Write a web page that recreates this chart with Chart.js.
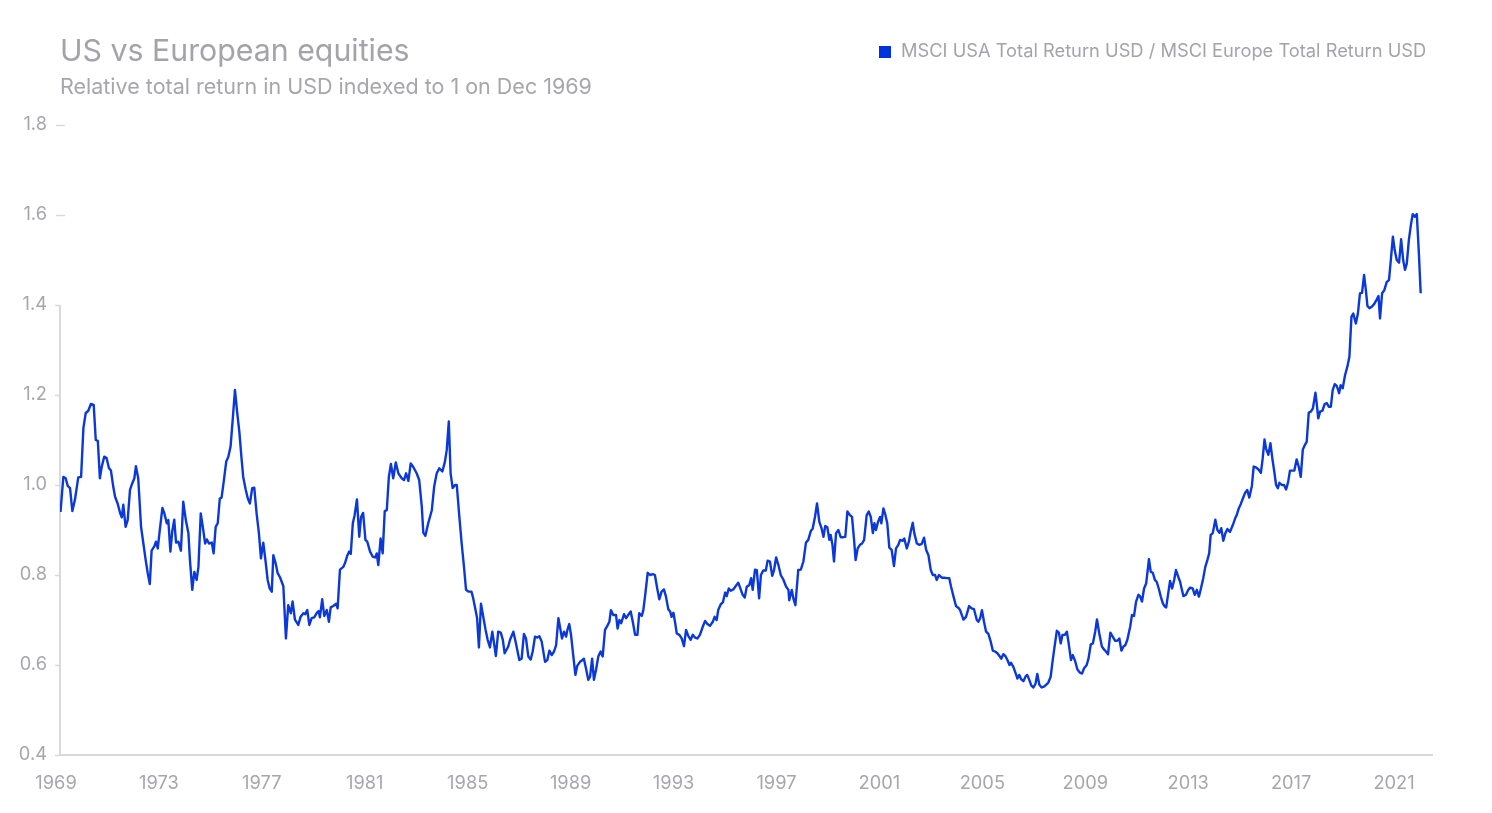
<!DOCTYPE html>
<html>
<head>
<meta charset="utf-8">
<script src="https://cdn.jsdelivr.net/npm/chart.js@4/dist/chart.umd.min.js"></script>
<style>
  html, body { margin: 0; padding: 0; background: #ffffff; }
  #wrap { position: relative; width: 1492px; height: 813px; overflow: hidden; font-family: Inter, "Noto Sans", sans-serif; }
  #c { position: absolute; left: 0; top: 0; }
  .txt { position: absolute; white-space: nowrap; line-height: 1; }
  #title { left: 60px; top: 35px; font-size: 30.3px; color: #a3a3ab; }
  #subtitle { left: 60px; top: 76px; font-size: 21.5px; color: #a6a6ad; }
  #legend { left: 879px; top: 41px; font-size: 18.3px; color: #a3a3ab; }
  #legend .box { display: inline-block; width: 12px; height: 12px; background: #0033dd; margin-right: 10px; vertical-align: -1px; }
</style>
</head>
<body>
<div id="wrap">
  <canvas id="c" width="1492" height="813"></canvas>
  <div class="txt" id="title"></div>
  <div class="txt" id="subtitle"></div>
  <div class="txt" id="legend"><span class="box"></span><span id="legendText"></span></div>
</div>
<script>
const chartTitle = "US vs European equities";
const chartSubtitle = "Relative total return in USD indexed to 1 on Dec 1969";
const seriesName = "MSCI USA Total Return USD / MSCI Europe Total Return USD";

const tickYears = [1969, 1973, 1977, 1981, 1985, 1989, 1993, 1997, 2001, 2005, 2009, 2013, 2017, 2021];
const yTicks = [0.4, 0.6, 0.8, 1.0, 1.2, 1.4, 1.6, 1.8];

const years = [
1969.02,1969.13,1969.22,1969.30,1969.39,1969.48,1969.58,1969.71,1969.82,1969.91,
1970.00,1970.10,1970.20,1970.31,1970.39,1970.47,1970.55,1970.62,1970.72,1970.81,1970.90,1970.98,
1971.07,1971.14,1971.24,1971.34,1971.40,1971.46,1971.55,1971.63,1971.72,1971.81,1971.89,1971.95,
1972.04,1972.15,1972.24,1972.33,1972.41,1972.49,1972.56,1972.67,1972.73,1972.80,1972.87,1972.98,
1973.05,1973.15,1973.21,1973.29,1973.36,1973.44,1973.51,1973.60,1973.70,1973.79,1973.89,1973.99,
1974.05,1974.14,1974.22,1974.31,1974.38,1974.47,1974.55,1974.64,1974.71,1974.79,1974.90,1974.97,
1975.05,1975.13,1975.21,1975.28,1975.37,1975.46,1975.54,1975.63,1975.71,1975.80,1975.89,1975.97,
1976.06,1976.12,1976.22,1976.30,1976.38,1976.47,1976.55,1976.64,1976.73,1976.81,1976.90,1976.99,
1977.07,1977.15,1977.23,1977.29,1977.38,1977.46,1977.55,1977.68,1977.78,1977.87,1977.97,
1978.04,1978.13,1978.26,1978.35,1978.46,1978.53,1978.61,1978.69,1978.78,1978.88,1978.98,
1979.05,1979.10,1979.19,1979.27,1979.37,1979.45,1979.52,1979.62,1979.73,1979.79,1979.88,
1980.01,1980.08,1980.17,1980.24,1980.30,1980.38,1980.45,1980.54,1980.63,1980.70,1980.78,1980.87,1980.94,
1981.05,1981.15,1981.25,1981.31,1981.37,1981.46,1981.54,1981.62,1981.70,1981.78,1981.86,1981.95,
1982.05,1982.15,1982.28,1982.37,1982.45,1982.54,1982.63,1982.73,1982.86,1982.96,
1983.06,1983.12,1983.20,1983.31,1983.45,1983.54,1983.64,1983.74,1983.86,1983.96,
1984.03,1984.11,1984.18,1984.26,1984.35,1984.42,1984.52,1984.61,1984.70,1984.78,1984.88,1984.99,
1985.06,1985.16,1985.21,1985.28,1985.36,1985.45,1985.54,1985.62,1985.71,1985.80,1985.88,1985.94,
1986.03,1986.13,1986.21,1986.28,1986.42,1986.49,1986.62,1986.72,1986.85,1986.94,
1987.03,1987.11,1987.20,1987.29,1987.37,1987.46,1987.55,1987.63,1987.72,1987.85,1987.94,
1988.02,1988.11,1988.20,1988.28,1988.37,1988.43,1988.51,1988.59,1988.67,1988.72,1988.79,1988.86,1988.95,
1989.03,1989.10,1989.21,1989.31,1989.36,1989.44,1989.53,1989.60,1989.68,1989.75,1989.83,1989.92,
1990.01,1990.09,1990.18,1990.27,1990.35,1990.41,1990.50,1990.61,1990.67,1990.74,1990.81,1990.92,
1991.00,1991.08,1991.18,1991.26,1991.35,1991.44,1991.51,1991.61,1991.67,1991.75,1991.84,1991.93,
1992.04,1992.12,1992.21,1992.29,1992.38,1992.47,1992.55,1992.64,1992.71,1992.77,1992.84,1992.90,1992.97,
1993.07,1993.16,1993.25,1993.33,1993.42,1993.51,1993.59,1993.68,1993.77,1993.87,1993.98,
1994.07,1994.16,1994.26,1994.37,1994.44,1994.52,1994.58,1994.68,1994.76,1994.85,1994.91,1994.99,
1995.07,1995.17,1995.27,1995.36,1995.43,1995.53,1995.61,1995.69,1995.79,1995.86,1995.92,
1996.01,1996.08,1996.17,1996.24,1996.33,1996.43,1996.50,1996.59,1996.68,1996.75,1996.83,1996.92,
1997.01,1997.11,1997.22,1997.31,1997.34,1997.44,1997.50,1997.58,1997.69,1997.79,1997.89,1997.99,
1998.08,1998.18,1998.25,1998.34,1998.42,1998.51,1998.60,1998.67,1998.74,1998.82,1998.90,1998.95,
1999.02,1999.08,1999.16,1999.25,1999.34,1999.44,1999.52,1999.60,1999.70,1999.78,1999.86,1999.92,
2000.00,2000.09,2000.17,2000.25,2000.35,2000.43,2000.51,2000.59,2000.65,2000.71,2000.79,2000.87,2000.92,
2001.00,2001.08,2001.15,2001.23,2001.32,2001.41,2001.49,2001.58,2001.65,2001.75,2001.81,2001.91,2001.99,
2002.06,2002.14,2002.20,2002.30,2002.40,2002.49,2002.58,2002.66,2002.75,2002.84,2002.92,
2003.01,2003.07,2003.16,2003.27,2003.36,2003.46,2003.56,2003.63,2003.72,2003.82,2003.93,2003.98,
2004.11,2004.21,2004.33,2004.43,2004.52,2004.63,2004.69,2004.76,2004.83,2004.91,2004.99,
2005.08,2005.17,2005.25,2005.34,2005.43,2005.51,2005.58,2005.66,2005.74,2005.82,2005.90,2005.96,
2006.05,2006.13,2006.21,2006.28,2006.36,2006.44,2006.52,2006.59,2006.67,2006.75,2006.83,2006.91,2006.98,
2007.06,2007.15,2007.24,2007.32,2007.41,2007.50,2007.58,2007.66,2007.74,2007.82,2007.89,2007.96,
2008.05,2008.13,2008.20,2008.29,2008.36,2008.45,2008.54,2008.64,2008.72,2008.80,2008.90,2008.97,
2009.06,2009.14,2009.23,2009.30,2009.39,2009.49,2009.58,2009.65,2009.73,2009.82,2009.91,
2010.00,2010.09,2010.17,2010.25,2010.33,2010.40,2010.48,2010.59,2010.66,2010.74,2010.82,2010.91,2010.97,
2011.05,2011.13,2011.21,2011.27,2011.32,2011.39,2011.47,2011.55,2011.62,2011.70,2011.78,2011.86,2011.93,2011.99,
2012.06,2012.14,2012.22,2012.30,2012.37,2012.46,2012.53,2012.60,2012.66,2012.76,2012.85,2012.92,
2013.02,2013.10,2013.18,2013.26,2013.34,2013.43,2013.51,2013.59,2013.66,2013.72,2013.80,2013.90,2013.98,
2014.06,2014.13,2014.21,2014.29,2014.37,2014.47,2014.58,2014.67,2014.73,2014.81,2014.89,2014.97,
2015.06,2015.14,2015.22,2015.32,2015.39,2015.48,2015.57,2015.67,2015.74,2015.81,2015.87,2015.96,
2016.04,2016.12,2016.19,2016.26,2016.33,2016.39,2016.48,2016.57,2016.65,2016.73,2016.80,2016.89,2016.97,
2017.06,2017.14,2017.22,2017.30,2017.38,2017.45,2017.53,2017.61,2017.69,2017.79,2017.84,2017.90,2017.97,
2018.06,2018.15,2018.23,2018.31,2018.39,2018.46,2018.54,2018.62,2018.71,2018.77,2018.85,2018.94,
2019.03,2019.11,2019.19,2019.26,2019.36,2019.44,2019.52,2019.60,2019.68,2019.75,2019.81,2019.89,2019.98,
2020.07,2020.17,2020.24,2020.30,2020.38,2020.46,2020.56,2020.65,2020.72,2020.80,2020.87,2020.95,
2021.04,2021.12,2021.20,2021.27,2021.34,2021.42,2021.50,2021.57,2021.65,2021.73,2021.81,2021.88
];

const values = [
0.940,1.018,1.015,0.998,0.993,0.942,0.967,1.017,1.018,1.127,
1.160,1.165,1.180,1.178,1.100,1.098,1.015,1.040,1.063,1.060,1.038,1.032,
0.996,0.974,0.959,0.937,0.928,0.956,0.907,0.922,0.989,1.004,1.015,1.042,
1.015,0.907,0.870,0.833,0.804,0.780,0.854,0.864,0.874,0.859,0.896,0.949,
0.938,0.915,0.922,0.852,0.896,0.923,0.872,0.874,0.854,0.963,0.922,0.893,
0.833,0.767,0.807,0.789,0.818,0.937,0.907,0.870,0.879,0.870,0.872,0.848,
0.907,0.915,0.970,0.972,1.011,1.052,1.062,1.086,1.144,1.211,1.159,1.118,
1.056,1.018,0.989,0.970,0.959,0.993,0.994,0.937,0.893,0.837,0.872,0.830,
0.789,0.770,0.763,0.844,0.826,0.804,0.795,0.775,0.659,0.733,0.715,
0.741,0.701,0.689,0.707,0.715,0.713,0.722,0.689,0.704,0.706,0.716,
0.720,0.706,0.746,0.709,0.722,0.696,0.728,0.731,0.736,0.726,0.812,
0.818,0.827,0.844,0.852,0.847,0.915,0.933,0.968,0.885,0.929,0.938,0.878,0.874,
0.852,0.841,0.839,0.848,0.822,0.881,0.848,0.942,0.944,1.018,1.047,1.015,
1.050,1.026,1.015,1.011,1.026,1.009,1.048,1.040,1.026,1.011,
0.952,0.894,0.887,0.915,0.944,0.996,1.026,1.037,1.030,1.052,
1.078,1.141,1.026,0.993,1.000,1.000,0.929,0.870,0.818,0.767,0.763,0.763,
0.748,0.719,0.704,0.639,0.736,0.707,0.678,0.656,0.639,0.674,0.644,0.620,
0.674,0.672,0.656,0.626,0.641,0.656,0.674,0.648,0.611,0.614,
0.669,0.659,0.619,0.612,0.630,0.663,0.661,0.664,0.652,0.607,0.611,
0.632,0.622,0.630,0.644,0.704,0.685,0.659,0.674,0.663,0.678,0.691,0.667,0.619,
0.578,0.598,0.607,0.611,0.614,0.593,0.567,0.574,0.614,0.567,0.589,0.619,
0.630,0.619,0.678,0.687,0.696,0.722,0.711,0.711,0.681,0.700,0.693,0.713,
0.704,0.711,0.719,0.696,0.667,0.667,0.715,0.709,0.722,0.759,0.805,0.800,
0.802,0.800,0.770,0.746,0.763,0.768,0.752,0.724,0.719,0.707,0.716,0.696,0.670,
0.667,0.659,0.642,0.678,0.664,0.656,0.667,0.661,0.659,0.667,0.685,
0.698,0.691,0.687,0.696,0.707,0.700,0.722,0.735,0.739,0.761,0.753,0.770,
0.765,0.768,0.776,0.783,0.772,0.756,0.750,0.774,0.778,0.793,0.767,
0.812,0.811,0.748,0.800,0.810,0.810,0.832,0.830,0.798,0.811,0.839,0.822,
0.800,0.790,0.774,0.767,0.744,0.767,0.748,0.733,0.811,0.812,0.830,0.872,
0.878,0.898,0.903,0.929,0.959,0.918,0.903,0.885,0.909,0.906,0.878,0.889,
0.867,0.830,0.893,0.900,0.884,0.884,0.885,0.941,0.933,0.929,0.878,0.833,
0.859,0.867,0.870,0.878,0.933,0.941,0.929,0.893,0.915,0.900,0.918,0.929,0.915,
0.948,0.933,0.915,0.861,0.856,0.820,0.859,0.867,0.878,0.876,0.881,0.859,0.874,
0.896,0.916,0.893,0.870,0.867,0.869,0.883,0.856,0.844,0.811,0.800,
0.800,0.789,0.800,0.794,0.794,0.793,0.793,0.774,0.753,0.731,0.726,0.722,
0.701,0.707,0.731,0.726,0.724,0.700,0.696,0.704,0.722,0.696,0.674,
0.669,0.652,0.632,0.630,0.626,0.620,0.614,0.624,0.620,0.611,0.600,0.605,
0.596,0.583,0.570,0.578,0.568,0.564,0.574,0.578,0.567,0.554,0.550,0.558,0.580,
0.556,0.550,0.552,0.556,0.561,0.574,0.611,0.644,0.676,0.672,0.648,0.667,
0.667,0.674,0.648,0.611,0.622,0.609,0.590,0.583,0.581,0.593,0.600,0.614,
0.646,0.648,0.674,0.701,0.670,0.641,0.634,0.630,0.624,0.672,0.663,
0.654,0.654,0.659,0.632,0.641,0.644,0.656,0.685,0.711,0.709,0.741,0.756,0.753,
0.741,0.770,0.781,0.810,0.835,0.807,0.805,0.789,0.785,0.770,0.752,0.737,0.730,0.728,
0.756,0.787,0.770,0.789,0.811,0.796,0.785,0.767,0.753,0.756,0.767,0.772,
0.770,0.756,0.767,0.752,0.770,0.793,0.818,0.833,0.848,0.889,0.893,0.923,0.900,
0.894,0.904,0.876,0.893,0.902,0.896,0.911,0.926,0.933,0.948,0.958,0.970,
0.983,0.989,0.972,0.998,1.041,1.039,1.035,1.027,1.059,1.101,1.081,1.067,
1.093,1.057,1.030,1.000,0.993,1.005,1.000,1.000,0.990,1.007,1.032,1.032,1.032,
1.057,1.041,1.018,1.079,1.089,1.096,1.161,1.163,1.170,1.205,1.181,1.148,1.163,
1.165,1.180,1.182,1.174,1.174,1.211,1.224,1.220,1.204,1.222,1.215,1.244,
1.263,1.285,1.374,1.381,1.359,1.381,1.426,1.427,1.467,1.433,1.398,1.393,1.396,
1.402,1.412,1.420,1.370,1.426,1.432,1.451,1.456,1.500,1.552,1.522,1.500,
1.494,1.546,1.500,1.478,1.492,1.544,1.578,1.602,1.596,1.602,1.515,1.426
];

const xMin = 1969, xMax = 2022.32;
const yMin = 0.4, yMax = 1.8, yAxisLineTop = 1.4;
const lineColor = "#0b38d8";
const textColor = "#a6a6ae";
const axisColor = "#d9d9dc";

document.getElementById('title').textContent = chartTitle;
document.getElementById('subtitle').textContent = chartSubtitle;
document.getElementById('legendText').textContent = seriesName;

const axisPlugin = {
  id: 'axisDecor',
  beforeDatasetsDraw(chart) {
    const ctx = chart.ctx;
    const ys = chart.scales.y;
    const left = chart.chartArea.left;
    ctx.save();
    ctx.strokeStyle = axisColor;
    ctx.lineWidth = 2;
    ctx.beginPath();
    ctx.moveTo(left, ys.getPixelForValue(yAxisLineTop));
    ctx.lineTo(left, ys.getPixelForValue(yMin));
    ctx.stroke();
    ctx.lineWidth = 1.5;
    yTicks.forEach(v => {
      const py = Math.round(ys.getPixelForValue(v)) + 0.5;
      ctx.beginPath();
      if (v > yAxisLineTop) { ctx.moveTo(left - 4, py); ctx.lineTo(left + 5, py); }
      else { ctx.moveTo(left - 5, py); ctx.lineTo(left, py); }
      ctx.stroke();
    });
    ctx.restore();
  }
};

new Chart(document.getElementById('c'), {
  type: 'line',
  data: {
    datasets: [{
      label: seriesName,
      data: years.map((x, i) => ({ x: x, y: values[i] })),
      borderColor: lineColor,
      backgroundColor: lineColor,
      borderWidth: 2.4,
      pointRadius: 0,
      tension: 0,
      fill: false,
      borderJoinStyle: 'round'
    }]
  },
  options: {
    responsive: false,
    animation: false,
    layout: { padding: { top: 125, right: 60, bottom: 0, left: 0 } },
    plugins: { legend: { display: false }, title: { display: false }, tooltip: { enabled: false } },
    scales: {
      x: {
        type: 'linear', min: xMin, max: xMax,
        afterBuildTicks: s => { s.ticks = tickYears.map(v => ({ value: v })); },
        afterFit: s => { s.height = 58; },
        grid: { drawOnChartArea: false, drawTicks: false },
        border: { display: true, color: axisColor, width: 2 },
        ticks: { callback: v => String(v), color: textColor, font: { family: 'Inter', size: 18.3 }, padding: 18, labelOffset: -4, maxRotation: 0, autoSkip: false }
      },
      y: {
        min: yMin, max: yMax,
        afterBuildTicks: s => { s.ticks = yTicks.map(v => ({ value: v })); },
        afterFit: s => { s.width = 60; },
        grid: { drawOnChartArea: false, drawTicks: false },
        border: { display: false },
        ticks: { callback: v => Number(v).toFixed(1), color: textColor, font: { family: 'Inter', size: 18.3 }, padding: 13 }
      }
    }
  },
  plugins: [axisPlugin]
});
</script>
</body>
</html>
